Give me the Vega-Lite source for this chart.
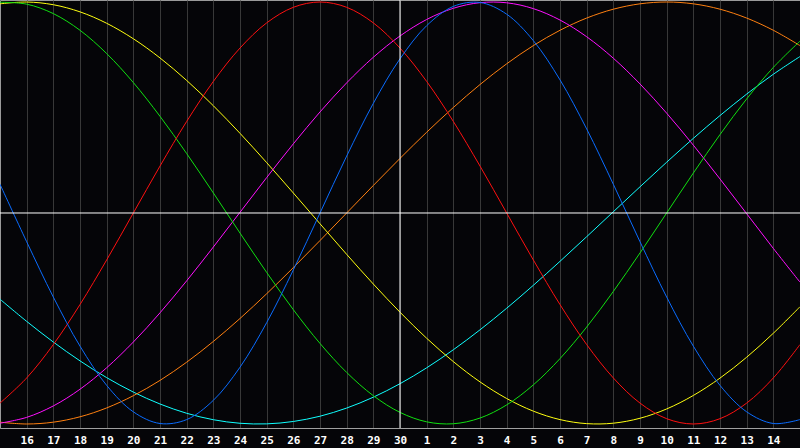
{
  "$schema": "https://vega.github.io/schema/vega-lite/v6.json",
  "width": 800,
  "height": 428,
  "autosize": "none",
  "padding": {"left": 0, "top": 0, "right": 0, "bottom": 20},
  "background": "#050508",
  "config": {
    "view": {"stroke": "#9a9a9a", "strokeWidth": 1, "fill": "#050508"}
  },
  "data": {
    "values": [
      {"x": 0, "aesthetic": 0.9914, "intellectual": 0.9989, "emotional": -0.9010, "intuitive": -0.9963, "physical": 0.1362, "awareness": -0.9914, "spiritual": -0.4085},
      {"x": 1, "aesthetic": 0.9999, "intellectual": 0.9898, "emotional": -0.7818, "intuitive": -0.9686, "physical": -0.1362, "awareness": -1.0, "spiritual": -0.5136},
      {"x": 2, "aesthetic": 0.9871, "intellectual": 0.9450, "emotional": -0.6235, "intuitive": -0.9144, "physical": -0.3984, "awareness": -0.9914, "spiritual": -0.6116},
      {"x": 3, "aesthetic": 0.9533, "intellectual": 0.8660, "emotional": -0.4339, "intuitive": -0.8353, "physical": -0.6310, "awareness": -0.9659, "spiritual": -0.7008},
      {"x": 4, "aesthetic": 0.8992, "intellectual": 0.7557, "emotional": -0.2225, "intuitive": -0.7334, "physical": -0.8170, "awareness": -0.9239, "spiritual": -0.7803},
      {"x": 5, "aesthetic": 0.8258, "intellectual": 0.6182, "emotional": 0.0, "intuitive": -0.6116, "physical": -0.9423, "awareness": -0.8660, "spiritual": -0.8487},
      {"x": 6, "aesthetic": 0.7349, "intellectual": 0.4582, "emotional": 0.2225, "intuitive": -0.4731, "physical": -0.9977, "awareness": -0.7934, "spiritual": -0.9053},
      {"x": 7, "aesthetic": 0.6282, "intellectual": 0.2817, "emotional": 0.4339, "intuitive": -0.3215, "physical": -0.9791, "awareness": -0.7071, "spiritual": -0.9492},
      {"x": 8, "aesthetic": 0.5084, "intellectual": 0.0951, "emotional": 0.6235, "intuitive": -0.1613, "physical": -0.8879, "awareness": -0.6088, "spiritual": -0.9798},
      {"x": 9, "aesthetic": 0.3776, "intellectual": -0.0951, "emotional": 0.7818, "intuitive": 0.0033, "physical": -0.7308, "awareness": -0.5, "spiritual": -0.9966},
      {"x": 10, "aesthetic": 0.2388, "intellectual": -0.2817, "emotional": 0.9010, "intuitive": 0.1679, "physical": -0.5197, "awareness": -0.3827, "spiritual": -0.9994},
      {"x": 11, "aesthetic": 0.0948, "intellectual": -0.4582, "emotional": 0.9749, "intuitive": 0.3278, "physical": -0.2698, "awareness": -0.2588, "spiritual": -0.9881},
      {"x": 12, "aesthetic": -0.0511, "intellectual": -0.6182, "emotional": 1.0, "intuitive": 0.4789, "physical": 0.0, "awareness": -0.1305, "spiritual": -0.9631},
      {"x": 13, "aesthetic": -0.1960, "intellectual": -0.7557, "emotional": 0.9749, "intuitive": 0.6168, "physical": 0.2698, "awareness": 0.0, "spiritual": -0.9245},
      {"x": 14, "aesthetic": -0.3367, "intellectual": -0.8660, "emotional": 0.9010, "intuitive": 0.7381, "physical": 0.5197, "awareness": 0.1305, "spiritual": -0.8729},
      {"x": 15, "aesthetic": -0.4702, "intellectual": -0.9450, "emotional": 0.7818, "intuitive": 0.8390, "physical": 0.7308, "awareness": 0.2588, "spiritual": -0.8090},
      {"x": 16, "aesthetic": -0.5937, "intellectual": -0.9898, "emotional": 0.6235, "intuitive": 0.9171, "physical": 0.8879, "awareness": 0.3827, "spiritual": -0.7338},
      {"x": 17, "aesthetic": -0.7044, "intellectual": -0.9989, "emotional": 0.4339, "intuitive": 0.9702, "physical": 0.9791, "awareness": 0.5, "spiritual": -0.6482},
      {"x": 18, "aesthetic": -0.8004, "intellectual": -0.9718, "emotional": 0.2225, "intuitive": 0.9969, "physical": 0.9977, "awareness": 0.6088, "spiritual": -0.5537},
      {"x": 19, "aesthetic": -0.8792, "intellectual": -0.9096, "emotional": 0.0, "intuitive": 0.9963, "physical": 0.9423, "awareness": 0.7071, "spiritual": -0.4514},
      {"x": 20, "aesthetic": -0.9391, "intellectual": -0.8146, "emotional": -0.2225, "intuitive": 0.9686, "physical": 0.8170, "awareness": 0.7934, "spiritual": -0.3427},
      {"x": 21, "aesthetic": -0.9792, "intellectual": -0.6901, "emotional": -0.4339, "intuitive": 0.9145, "physical": 0.6310, "awareness": 0.8660, "spiritual": -0.2291},
      {"x": 22, "aesthetic": -0.9983, "intellectual": -0.5406, "emotional": -0.6235, "intuitive": 0.8354, "physical": 0.3984, "awareness": 0.9239, "spiritual": -0.1124},
      {"x": 23, "aesthetic": -0.9962, "intellectual": -0.3717, "emotional": -0.7818, "intuitive": 0.7336, "physical": 0.1362, "awareness": 0.9659, "spiritual": 0.0059},
      {"x": 24, "aesthetic": -0.9728, "intellectual": -0.1893, "emotional": -0.9010, "intuitive": 0.6117, "physical": -0.1362, "awareness": 0.9914, "spiritual": 0.1242},
      {"x": 25, "aesthetic": -0.9287, "intellectual": 0.0, "emotional": -0.9749, "intuitive": 0.4731, "physical": -0.3984, "awareness": 1.0, "spiritual": 0.2407},
      {"x": 26, "aesthetic": -0.8648, "intellectual": 0.1893, "emotional": -1.0, "intuitive": 0.3215, "physical": -0.6310, "awareness": 0.9914, "spiritual": 0.3538},
      {"x": 27, "aesthetic": -0.7825, "intellectual": 0.3717, "emotional": -0.9749, "intuitive": 0.1613, "physical": -0.8170, "awareness": 0.9659, "spiritual": 0.4618},
      {"x": 28, "aesthetic": -0.6836, "intellectual": 0.5406, "emotional": -0.9010, "intuitive": -0.0033, "physical": -0.9423, "awareness": 0.9239, "spiritual": 0.5636},
      {"x": 29, "aesthetic": -0.5699, "intellectual": 0.6901, "emotional": -0.7818, "intuitive": -0.1679, "physical": -0.9977, "awareness": 0.8660, "spiritual": 0.6576},
      {"x": 30, "aesthetic": -0.4442, "intellectual": 0.8146, "emotional": -0.6235, "intuitive": -0.3278, "physical": -0.9791, "awareness": 0.7934, "spiritual": 0.7417}
    ]
  },
  "layer": [
    {
      "transform": [
        {"fold": ["spiritual", "awareness", "aesthetic", "intuitive", "intellectual", "emotional", "physical"], "as": ["cycle", "v"]}
      ],
      "mark": {"type": "line", "strokeWidth": 1, "interpolate": "catmull-rom", "clip": true},
      "encoding": {
        "x": {
          "field": "x",
          "type": "quantitative",
          "scale": {"domain": [0, 30], "nice": false},
          "axis": {
            "title": null,
            "values": [1, 2, 3, 4, 5, 6, 7, 8, 9, 10, 11, 12, 13, 14, 15, 16, 17, 18, 19, 20, 21, 22, 23, 24, 25, 26, 27, 28, 29],
            "tickCount": 40,
            "labelExpr": "datum.value <= 15 ? datum.value + 15 : datum.value - 15",
            "grid": true,
            "gridColor": "#383838",
            "gridWidth": 1,
            "domainColor": "#a0a0a0",
            "ticks": false,
            "labelColor": "#ffffff",
            "labelFont": "DejaVu Sans Mono",
            "labelFontWeight": "bold",
            "labelFontSize": 11,
            "labelPadding": 6,
            "labelFlush": false,
            "labelOverlap": false
          }
        },
        "y": {
          "field": "v",
          "type": "quantitative",
          "scale": {"domain": [-1.019, 1.0095], "nice": false, "zero": false},
          "axis": null
        },
        "color": {
          "field": "cycle",
          "type": "nominal",
          "scale": {
            "domain": ["physical", "emotional", "intellectual", "intuitive", "aesthetic", "awareness", "spiritual"],
            "range": ["#0a6cff", "#ff1010", "#10e010", "#ff10ff", "#ffff10", "#ff8010", "#10ffff"]
          },
          "legend": null
        }
      }
    },
    {
      "data": {"values": [{}]},
      "mark": {"type": "rule", "color": "#ffffff", "strokeWidth": 1},
      "encoding": {"x": {"datum": 15, "type": "quantitative"}}
    },
    {
      "data": {"values": [{}]},
      "mark": {"type": "rule", "color": "#ffffff", "strokeWidth": 1},
      "encoding": {"y": {"datum": 0, "type": "quantitative"}}
    }
  ]
}
